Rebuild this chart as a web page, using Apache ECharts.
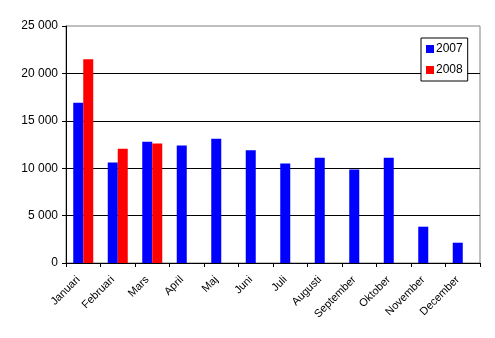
<!DOCTYPE html>
<html><head><meta charset="utf-8">
<script src="https://cdn.jsdelivr.net/npm/echarts@6/dist/echarts.min.js"></script>
<style>html,body{margin:0;padding:0;background:#fff}#c{width:495px;height:338px}</style>
</head><body><div id="c"></div>
<script>
const months = ['Januari','Februari','Mars','April','Maj','Juni','Juli','Augusti','September','Oktober','November','December'];
const values2007 = [16900, 10600, 12800, 12400, 13100, 11900, 10500, 11100, 9850, 11100, 3830, 2140];
const values2008 = [21500, 12050, 12600, null, null, null, null, null, null, null, null, null];
const yTicks = [0, 5000, 10000, 15000, 20000, 25000];

const chart = echarts.init(document.getElementById('c'), null, {renderer:'canvas'});
const font = 'Liberation Sans, Arial, sans-serif';
chart.setOption({
  animation:false,
  backgroundColor:'#fff',
  textStyle:{fontFamily:font},
  grid:{left:66,right:15,top:26,bottom:75,show:true,borderColor:'#808080',borderWidth:1,backgroundColor:'transparent'},
  legend:{
    orient:'vertical', left:421, top:38,
    backgroundColor:'#fff', borderColor:'#000', borderWidth:1,
    padding:[5,5,5,5], itemGap:9, itemWidth:8, itemHeight:8,
    icon:'rect',
    textStyle:{fontFamily:font,fontSize:12,color:'#000',padding:[0,0,0,-3]},
    data:['2007','2008']
  },
  xAxis:{
    type:'category', data:months,
    axisLine:{lineStyle:{color:'#000',width:1}},
    axisTick:{show:true,length:4,interval:0,lineStyle:{color:'#000'}},
    axisLabel:{rotate:45,interval:0,margin:10,padding:[0,7,0,0],fontSize:11,color:'#000',fontFamily:font},
    splitLine:{show:false}
  },
  yAxis:{
    type:'value', min:yTicks[0], max:yTicks[yTicks.length-1], interval:5000,
    axisLine:{show:true,lineStyle:{color:'#000',width:1}},
    axisTick:{show:true,length:4,lineStyle:{color:'#000'}},
    axisLabel:{fontSize:12,color:'#000',margin:8,fontFamily:font,
      formatter:v=>String(v).replace(/\B(?=(\d{3})+(?!\d))/g,' ')},
    splitLine:{show:true,showMaxLine:false,lineStyle:{color:'#000',width:1}}
  },
  series:[
    {name:'2007',type:'bar',data:values2007,barWidth:10,barGap:'0%',itemStyle:{color:'#0000ff'}},
    {name:'2008',type:'bar',data:values2008,barWidth:10,barGap:'0%',itemStyle:{color:'#ff0000'}}
  ]
});
</script></body></html>
